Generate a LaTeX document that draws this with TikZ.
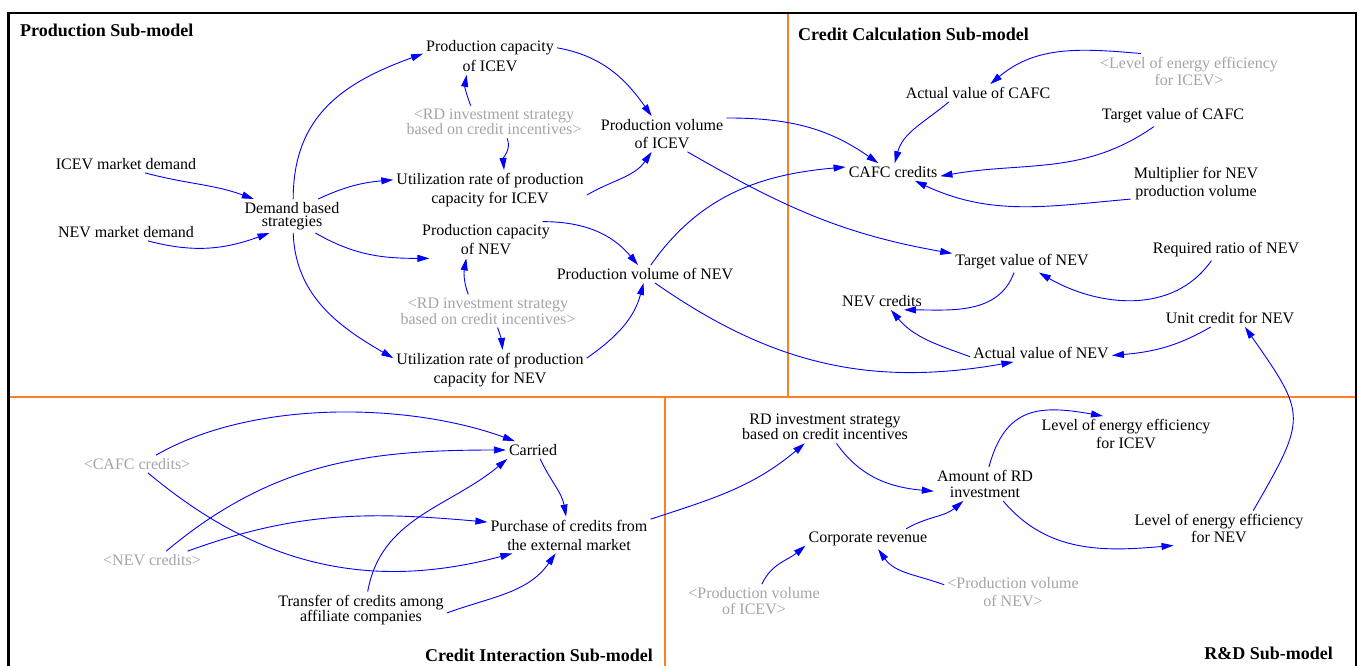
\documentclass[tikz,border=0pt]{standalone}
\usepackage{fontspec}
\setmainfont{Liberation Serif}
\usetikzlibrary{arrows.meta}
\definecolor{linkblue}{RGB}{0,0,255}
\definecolor{ghost}{RGB}{165,165,165}
\definecolor{frameorange}{RGB}{255,127,39}

\begin{document}
\begin{tikzpicture}[x=1pt,y=1pt,
  var/.style={font=\fontsize{16}{19}\selectfont, align=center, inner sep=3pt},
  shadow/.style={var, text=ghost},
  lead/.style={font=\fontsize{16}{#1}\selectfont},
  title/.style={font=\fontsize{18}{20}\selectfont\bfseries, inner sep=0pt},
  link/.style={draw=linkblue, line width=0.9pt, -{Triangle[length=12pt,width=7pt]}},
  panel/.style={line width=2.4pt},
]
\useasboundingbox (0,0) rectangle (1358,-666);
\fill[white] (0,0) rectangle (1358,-666);

% frame and sub-model dividers
\draw[panel, frameorange] (9,-397) -- (1355,-397);
\draw[panel, frameorange] (788,-13) -- (788,-397);
\draw[panel, frameorange] (665,-397) -- (665,-666);
\draw[panel, black, line width=2.2pt] (8.5,-666) -- (8.5,-13) -- (1356,-13) -- (1356,-666);

% titles
\node[title, anchor=west] (tProd) at (20,-30) {Production Sub-model};
\node[title, anchor=west] (tCalc) at (798,-34) {Credit Calculation Sub-model};
\node[title, anchor=east] (tInter) at (653,-655) {Credit Interaction Sub-model};
\node[title, anchor=east] (tRD) at (1333,-653) {R\&D Sub-model};

% production sub-model
\node[var, lead=20] (capICEV) at (490,-56) {Production capacity\\of ICEV};
\node[shadow, lead=14] (rdA) at (494,-122) {<RD investment strategy\\based on credit incentives>};
\node[var, lead=18] (pvICEV) at (662,-134) {Production volume\\of ICEV};
\node[var] (utICEV) at (490,-190) {Utilization rate of production\\capacity for ICEV};
\node[var] (icevMD) at (126,-164) {ICEV market demand};
\node[var] (nevMD) at (126,-232) {NEV market demand};
\node[var, lead=13] (demand) at (292,-216) {Demand based\\strategies};
\node[var] (capNEV) at (486,-240) {Production capacity\\of NEV};
\node[shadow, lead=16] (rdB) at (488,-311) {<RD investment strategy\\based on credit incentives>};
\node[var] (pvNEV) at (645,-274) {Production volume of NEV};
\node[var] (utNEV) at (490,-370) {Utilization rate of production\\capacity for NEV};

% credit calculation sub-model
\node[shadow, lead=17] (lvlICEVs) at (1189,-71) {<Level of energy efficiency\\for ICEV>};
\node[var] (actCAFC) at (978,-93) {Actual value of CAFC};
\node[var] (tgtCAFC) at (1173,-116) {Target value of CAFC};
\node[var] (cafc) at (893,-172) {CAFC credits};
\node[var, lead=18] (mult) at (1196,-184) {Multiplier for NEV\\production volume};
\node[var] (tgtNEV) at (1022,-262) {Target value of NEV};
\node[var] (reqNEV) at (1226,-250) {Required ratio of NEV};
\node[var] (nevcr) at (882,-301) {NEV credits};
\node[var] (unitNEV) at (1230,-318) {Unit credit for NEV};
\node[var] (actNEV) at (1041,-353) {Actual value of NEV};

% credit interaction sub-model
\node[shadow] (cafcS) at (137,-464) {<CAFC credits>};
\node[shadow] (nevS) at (152,-560) {<NEV credits>};
\node[var] (carried) at (533,-450) {Carried};
\node[var] (purchase) at (569,-535) {Purchase of credits from\\the external market};
\node[var, lead=14] (transfer) at (361,-610) {Transfer of credits among\\affiliate companies};

% R&D sub-model
\node[var, lead=14] (rdStrat) at (825,-427) {RD investment strategy\\based on credit incentives};
\node[var, lead=16] (amount) at (985,-484) {Amount of RD\\investment};
\node[var, lead=18] (lvlICEV) at (1126,-434) {Level of energy efficiency\\for ICEV};
\node[var, lead=17] (lvlNEV) at (1219,-528) {Level of energy efficiency\\for NEV};
\node[var] (corp) at (868,-539) {Corporate revenue};
\node[shadow, lead=16] (pvICEVs) at (754,-601) {<Production volume\\of ICEV>};
\node[shadow, lead=18] (pvNEVs) at (1013,-592) {<Production volume\\of NEV>};

% links: production
\draw[link] (demand.86) to[out=90,in=200,looseness=1.1] (capICEV.178);
\draw[link] (rdA.145) to[out=110,in=-100] (capICEV.219);
\draw[link] (rdA.309) to[out=-70,in=95] (utICEV.55);
\draw[link] (capICEV.7) to[out=-10,in=125] (pvICEV.120);
\draw[link] (utICEV.357) to[out=30,in=-125] (pvICEV.240);
\draw[link] (icevMD.335) to[out=-15,in=160] (demand.156);
\draw[link] (nevMD.338) to[out=-15,in=200] (demand.217);
\draw[link] (demand.33) to[out=25,in=185] (utICEV.174);
\draw[link] (demand.324) to[out=-30,in=180] (capNEV.198);
\draw[link] (demand.274) to[out=-88,in=150] (utNEV.173);
\draw[link] (rdB.140) to[out=110,in=-100] (capNEV.223);
\draw[link] (rdB.300) to[out=-70,in=95] (utNEV.58);
\draw[link] (capNEV.18) to[out=0,in=130] (pvNEV.128);
\draw[link] (utNEV.7) to[out=35,in=-105] (pvNEV.261);
\draw[link] (pvICEV.14) to[out=0,in=145] (cafc.149);
\draw[link] (pvICEV.325) to[out=-30,in=170] (tgtNEV.173);
\draw[link] (pvNEV.57) to[out=55,in=185] (cafc.174);
\draw[link] (pvNEV.318) to[out=-35,in=190] (actNEV.198);

% links: credit calculation
\draw[link] (lvlICEVs.160) to[out=175,in=40] (actCAFC.36);
\draw[link] (actCAFC.197) to[out=-140,in=75] (cafc.79);
\draw[link] (tgtCAFC.209) to[out=-145,in=10] (cafc.355);
\draw[link] (mult.193) to[out=185,in=-25] (cafc.338);
\draw[link] (reqNEV.216) to[out=-125,in=-30] (tgtNEV.328);
\draw[link] (tgtNEV.233) to[out=-110,in=0] (nevcr.338);
\draw[link] (actNEV.183) to[out=160,in=-50] (nevcr.315);
\draw[link] (unitNEV.205) to[out=-150,in=5] (actNEV.358);
\draw[link] (lvlNEV.27) to[out=60,in=-55,looseness=1.5] (unitNEV.329);

% links: credit interaction
\draw[link] (cafcS.25) to[out=30,in=160,looseness=0.8] (carried.154);
\draw[link] (cafcS.321) to[out=-40,in=195] (purchase.198);
\draw[link] (nevS.32) to[out=40,in=180] (carried.180);
\draw[link] (nevS.14) to[out=20,in=175] (purchase.171);
\draw[link] (transfer.70) to[out=80,in=-140] (carried.199);
\draw[link] (transfer.358) to[out=20,in=-125] (purchase.234);
\draw[link] (carried.309) to[out=-65,in=100] (purchase.99);
\draw[link] (purchase.11) to[out=18,in=-140] (rdStrat.219);

% links: R&D
\draw[link] (rdStrat.305) to[out=-55,in=175] (amount.188);
\draw[link] (amount.77) to[out=75,in=170,looseness=1.3] (lvlICEV.142);
\draw[link] (amount.317) to[out=-50,in=185] (lvlNEV.201);
\draw[link] (corp.15) to[out=30,in=-140] (amount.218);
\draw[link] (pvICEVs.65) to[out=65,in=-140] (corp.186);
\draw[link] (pvNEVs.174) to[out=160,in=-55] (corp.315);
\end{tikzpicture}
\end{document}
